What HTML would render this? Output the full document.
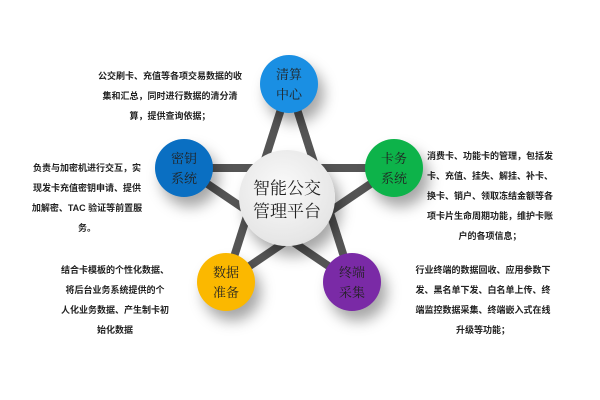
<!DOCTYPE html>
<html><head><meta charset="utf-8"><style>
body{margin:0;width:600px;height:400px;background:#fff;position:relative;overflow:hidden;font-family:"Liberation Sans","Noto Sans CJK SC",sans-serif}
.t{position:absolute;font-size:9px;line-height:20px;color:#222;text-align:center;font-weight:bold;white-space:nowrap;transform:translateX(-50%)}
.c{position:absolute;border-radius:50%;color:#222;font-family:"Noto Serif CJK SC",serif;text-align:center;display:flex;align-items:center;justify-content:center;font-size:13px;line-height:20px;box-shadow:6px 10px 14px rgba(0,0,0,0.35)}
</style></head><body>
<svg width="600" height="400" style="position:absolute;left:0;top:0">
<g stroke="#555" stroke-width="8" fill="none">
<line x1="289" y1="84" x2="226" y2="282"/>
<line x1="289" y1="84" x2="352" y2="282"/>
<line x1="184" y1="168" x2="394" y2="168"/>
<line x1="184" y1="168" x2="352" y2="282"/>
<line x1="394" y1="168" x2="226" y2="282"/>
</g>
</svg>
<div class="c" style="left:239px;top:150px;width:96px;height:96px;background:radial-gradient(circle at 45% 40%,#fafafa,#e6e6e6 70%,#cfcfcf);font-size:17px;line-height:23px">智能公交<br>管理平台</div>
<div class="c" style="left:260px;top:55px;width:58px;height:58px;background:#1a8fe3">清算<br>中心</div>
<div class="c" style="left:155px;top:139px;width:58px;height:58px;background:#0a6fc2">密钥<br>系统</div>
<div class="c" style="left:365px;top:139px;width:58px;height:58px;background:#0db34a">卡务<br>系统</div>
<div class="c" style="left:197px;top:253px;width:58px;height:58px;background:#fbb800">数据<br>准备</div>
<div class="c" style="left:323px;top:253px;width:58px;height:58px;background:#7a2aa6">终端<br>采集</div>
<div class="t" style="left:170px;top:66px">公交刷卡、充值等各项交易数据的收<br>集和汇总，同时进行数据的清分清<br>算，提供查询依据；</div>
<div class="t" style="left:87px;top:158px">负责与加密机进行交互，实<br>现发卡充值密钥申请、提供<br>加解密、TAC 验证等前置服<br>务。</div>
<div class="t" style="left:115px;top:260px">结合卡模板的个性化数据、<br>将后台业务系统提供的个<br>人化业务数据、产生制卡初<br>始化数据</div>
<div class="t" style="left:490px;top:146px">消费卡、功能卡的管理，包括发<br>卡、充值、挂失、解挂、补卡、<br>换卡、销户、领取冻结金额等各<br>项卡片生命周期功能，维护卡账<br>户的各项信息；</div>
<div class="t" style="left:483px;top:260px">行业终端的数据回收、应用参数下<br>发、黑名单下发、白名单上传、终<br>端监控数据采集、终端嵌入式在线<br>升级等功能；</div>
</body></html>
